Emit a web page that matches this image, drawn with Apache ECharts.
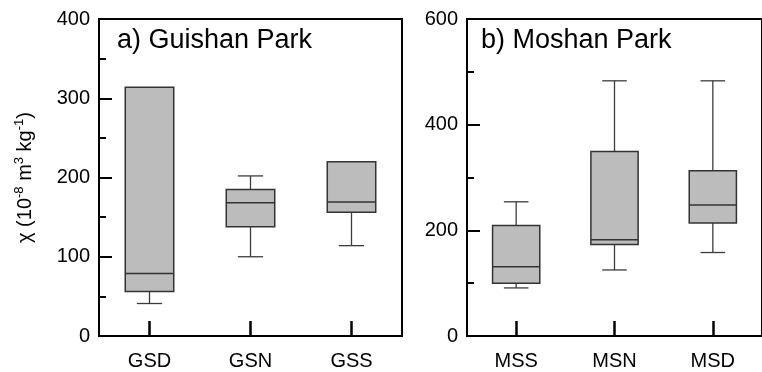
<!DOCTYPE html>
<html>
<head>
    <meta charset="utf-8">
    <title>χ box plots</title>
    <script src="https://cdn.jsdelivr.net/npm/echarts@6/dist/echarts.min.js"></script>
    <style>
        html, body { margin: 0; padding: 0; background: #fff; }
    </style>
</head>
<body>
<div id="main" style="width: 762px;height:372px;"></div>
<script type="text/javascript">
    // Guishan Park (a)
    const gsCats = ['GSD', 'GSN', 'GSS'];
    const gsMin = [41, 100, 114];
    const gsQ1 = [56, 138, 156];
    const gsMed = [79, 168, 169];
    const gsQ3 = [314, 185, 220];
    const gsMax = [314, 202, 220];

    // Moshan Park (b)
    const msCats = ['MSS', 'MSN', 'MSD'];
    const msMin = [91, 125, 158];
    const msQ1 = [100, 173, 214];
    const msMed = [131, 182, 248];
    const msQ3 = [209, 349, 313];
    const msMax = [254, 483, 483];

    const font = '"Liberation Sans", Arial, sans-serif';

    function rows(mn, q1, md, q3, mx) {
        return mn.map(function (v, i) { return [i, v, q1[i], md[i], q3[i], mx[i]]; });
    }

    // box + whiskers with short caps
    function renderBox(params, api) {
        const x = api.value(0);
        const band = api.size([1, 0])[0];
        const bw = band * 0.48;
        const cw = band * 0.25;
        const pMin = api.coord([x, api.value(1)]);
        const pQ1 = api.coord([x, api.value(2)]);
        const pMed = api.coord([x, api.value(3)]);
        const pQ3 = api.coord([x, api.value(4)]);
        const pMax = api.coord([x, api.value(5)]);
        const cx = pMin[0];
        const line = { stroke: '#3c3c3c', lineWidth: 1.3 };
        const kids = [];
        if (pMax[1] < pQ3[1] - 0.5) {
            kids.push({ type: 'line', shape: { x1: cx, y1: pMax[1], x2: cx, y2: pQ3[1] }, style: line });
            kids.push({ type: 'line', shape: { x1: cx - cw / 2, y1: pMax[1], x2: cx + cw / 2, y2: pMax[1] }, style: line });
        }
        if (pMin[1] > pQ1[1] + 0.5) {
            kids.push({ type: 'line', shape: { x1: cx, y1: pQ1[1], x2: cx, y2: pMin[1] }, style: line });
            kids.push({ type: 'line', shape: { x1: cx - cw / 2, y1: pMin[1], x2: cx + cw / 2, y2: pMin[1] }, style: line });
        }
        kids.push({
            type: 'rect',
            shape: { x: cx - bw / 2, y: pQ3[1], width: bw, height: pQ1[1] - pQ3[1] },
            style: { fill: '#bcbcbc', stroke: '#333', lineWidth: 1.5 }
        });
        kids.push({ type: 'line', shape: { x1: cx - bw / 2, y1: pMed[1], x2: cx + bw / 2, y2: pMed[1] }, style: { stroke: '#333', lineWidth: 1.5 } });
        return { type: 'group', children: kids };
    }

    function xAx(idx, cats) {
        return {
            type: 'category', gridIndex: idx, data: cats,
            axisLine: { show: true, lineStyle: { color: '#000', width: 2 } },
            axisTick: { show: true, inside: true, length: 15, alignWithLabel: true, lineStyle: { color: '#000', width: 2.5 } },
            axisLabel: { color: '#000', fontSize: 20, fontFamily: font, margin: 15 },
            splitLine: { show: false }
        };
    }

    // main y axis: labels + long ticks
    function yAx(idx, max, step, name) {
        return {
            type: 'value', gridIndex: idx, position: 'left', min: 0, max: max, interval: step,
            name: name, nameLocation: 'middle', nameGap: 64, nameRotate: 90,
            nameTextStyle: {
                color: '#000', fontFamily: font,
                rich: {
                    n: { fontSize: 20, fontFamily: font, color: '#000', lineHeight: 22, verticalAlign: 'bottom' },
                    s: { fontSize: 13, fontFamily: font, color: '#000', lineHeight: 22, verticalAlign: 'top' }
                }
            },
            axisLine: { show: true, lineStyle: { color: '#000', width: 2 } },
            axisTick: { show: true, inside: true, length: 13, lineStyle: { color: '#000', width: 2 } },
            axisLabel: { color: '#000', fontSize: 20, fontFamily: font, margin: 9 },
            splitLine: { show: false }
        };
    }

    // helper y axis: short ticks at half steps
    function yHalf(idx, max, step) {
        return {
            type: 'value', gridIndex: idx, position: 'left', offset: 0, min: 0, max: max, interval: step / 2,
            axisLine: { show: false },
            axisTick: { show: true, inside: true, length: 7, lineStyle: { color: '#000', width: 2 } },
            axisLabel: { show: false },
            splitLine: { show: false }
        };
    }

    const myChart = echarts.init(document.getElementById('main'));
    myChart.setOption({
        animation: false,
        title: [
            { text: 'a) Guishan Park', left: 117, top: 27, padding: 0,
              textStyle: { color: '#000', fontSize: 27, fontWeight: 'normal', fontFamily: font } },
            { text: 'b) Moshan Park', left: 481, top: 27, padding: 0,
              textStyle: { color: '#000', fontSize: 27, fontWeight: 'normal', fontFamily: font } }
        ],
        grid: [
            { left: 99, top: 19, width: 303, height: 317, show: true, borderColor: '#000', borderWidth: 2 },
            { left: 467, top: 19, width: 303, height: 317, show: true, borderColor: '#000', borderWidth: 2 }
        ],
        xAxis: [xAx(0, gsCats), xAx(1, msCats)],
        yAxis: [
            yAx(0, 400, 100, '{n|χ (10}{s|-8}{n| m}{s|3}{n| kg}{s|-1}{n|)}'),
            yAx(1, 600, 200, ''),
            yHalf(0, 400, 100),
            yHalf(1, 600, 200)
        ],
        series: [
            { type: 'custom', xAxisIndex: 0, yAxisIndex: 0, renderItem: renderBox,
              encode: { x: 0, y: [1, 2, 3, 4, 5] }, data: rows(gsMin, gsQ1, gsMed, gsQ3, gsMax) },
            { type: 'custom', xAxisIndex: 1, yAxisIndex: 1, renderItem: renderBox,
              encode: { x: 0, y: [1, 2, 3, 4, 5] }, data: rows(msMin, msQ1, msMed, msQ3, msMax) }
        ]
    });
</script>
</body>
</html>
